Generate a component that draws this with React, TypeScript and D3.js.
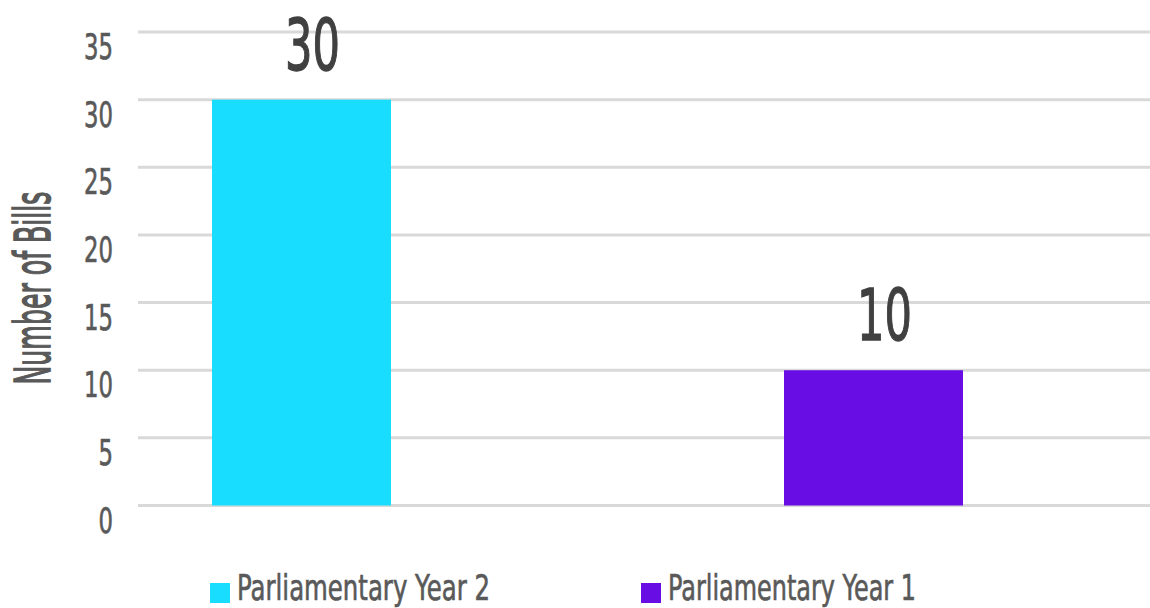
import React from "react";
import * as d3 from "d3";

const categories = ["Parliamentary Year 2", "Parliamentary Year 1"];
const values = [30, 10];
const colors = ["#19DDFF", "#680DE4"];
const yTicks = [0, 5, 10, 15, 20, 25, 30, 35];
const yTitle = "Number of Bills";

const W = 1150;
const H = 608;
const FONT = "'DejaVu Sans', sans-serif";

export default function App() {
  const y = d3.scaleLinear().domain([0, 35]).range([505.5, 32]);
  const x = d3.scalePoint<string>().domain(categories).range([301.5, 873.5]);
  const barW = 179;
  const gridX0 = 138;
  const gridX1 = 1150;
  const legendX = [210, 641];
  const legendTextW = [253, 248];

  return (
    <svg
      width={W}
      height={H}
      style={{ position: "absolute", left: 0, top: 0, background: "#fff" }}
    >
      {yTicks.map((t) => (
        <line
          key={"g" + t}
          x1={gridX0}
          x2={gridX1}
          y1={y(t)}
          y2={y(t)}
          stroke="#d9d9d9"
          strokeWidth={3}
        />
      ))}
      {yTicks.map((t) => {
        const s = String(t);
        return (
          <text
            key={"t" + t}
            x={113 - s.length * 14.5}
            y={y(t) + 27}
            fontFamily={FONT}
            fontSize={36}
            fill="#595959"
            stroke="#595959"
            strokeWidth={0.7}
            textLength={s.length * 14.5}
            lengthAdjust="spacingAndGlyphs"
          >
            {s}
          </text>
        );
      })}
      {categories.map((c, i) => (
        <rect
          key={"b" + c}
          x={(x(c) as number) - barW / 2}
          y={y(values[i])}
          width={barW}
          height={y(0) - y(values[i])}
          fill={colors[i]}
        />
      ))}
      {categories.map((c, i) => {
        const s = String(values[i]);
        const tw = s.length * 27.5;
        return (
          <text
            key={"v" + c}
            x={(x(c) as number) + 11 - tw / 2}
            y={y(values[i]) - 30}
            fontFamily={FONT}
            fontSize={71}
            fill="#404040"
            stroke="#404040"
            strokeWidth={1.4}
            textLength={tw}
            lengthAdjust="spacingAndGlyphs"
          >
            {s}
          </text>
        );
      })}
      <text
        transform={`translate(50,${288 + 96.5}) rotate(-90)`}
        fontFamily={FONT}
        fontSize={50}
        fill="#595959"
        stroke="#595959"
        strokeWidth={1.6}
        textLength={193}
        lengthAdjust="spacingAndGlyphs"
      >
        {yTitle}
      </text>
      {categories.map((c, i) => (
        <g key={"l" + c}>
          <rect x={legendX[i]} y={583} width={20} height={20} fill={colors[i]} />
          <text
            x={legendX[i] + 27}
            y={599.5}
            fontFamily={FONT}
            fontSize={35}
            fill="#595959"
            stroke="#595959"
            strokeWidth={0.7}
            textLength={legendTextW[i]}
            lengthAdjust="spacingAndGlyphs"
          >
            {c}
          </text>
        </g>
      ))}
    </svg>
  );
}
